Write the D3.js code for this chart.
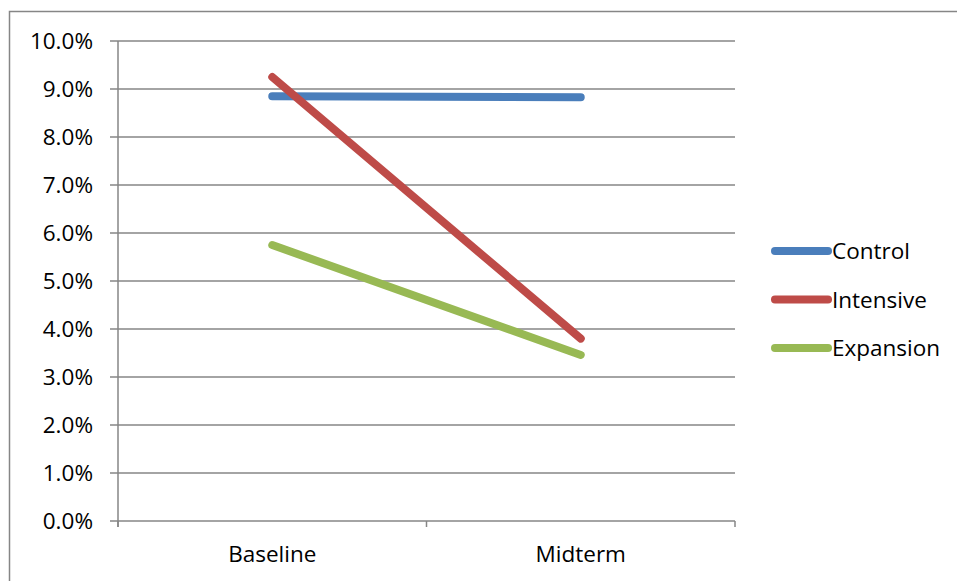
<!DOCTYPE html>
<html><head><meta charset="utf-8">
<script src="https://cdn.jsdelivr.net/npm/d3@7"></script>
<style>body{margin:0;background:#fff}svg{display:block}text{font-family:"Open Sans",Lato,sans-serif;fill:#000}</style>
</head><body>
<script>
const categories = ["Baseline", "Midterm"];
const seriesNames = ["Control", "Intensive", "Expansion"];
const control = [0.0885, 0.0883];
const intensive = [0.0925, 0.0380];
const expansion = [0.0575, 0.0346];
const yTicks = [0, 0.01, 0.02, 0.03, 0.04, 0.05, 0.06, 0.07, 0.08, 0.09, 0.10];
const colors = ["#4A7EBB", "#BE4B48", "#98B954"];

(function () {
const W = 957, H = 581;
const svg = d3.select("body").append("svg").attr("width", W).attr("height", H);
svg.append("rect").attr("x", 9.5).attr("y", 11.5).attr("width", W + 20).attr("height", H + 20)
  .attr("fill", "#fff").attr("stroke", "#868686").attr("stroke-width", 1.5);

const mL = 118, mR = 735, mT = 41, mB = 521;
const x = d3.scaleBand().domain(categories).range([mL, mR]);
const y = d3.scaleLinear().domain([0, 0.10]).range([mB, mT]);

svg.append("g").selectAll("line").data(yTicks).join("line")
  .attr("x1", mL - 8).attr("x2", mR)
  .attr("y1", d => y(d)).attr("y2", d => y(d))
  .attr("stroke", "#868686").attr("stroke-width", 1.5);

svg.append("line").attr("x1", mL).attr("x2", mL).attr("y1", mT).attr("y2", mB + 6)
  .attr("stroke", "#868686").attr("stroke-width", 1.5);
const bounds = [mL, ...categories.slice(1).map(c => x(c)), mR];
svg.append("g").selectAll("line").data(bounds).join("line")
  .attr("x1", d => d).attr("x2", d => d).attr("y1", mB).attr("y2", mB + 6)
  .attr("stroke", "#868686").attr("stroke-width", 1.5);

svg.append("g").selectAll("text").data(yTicks).join("text")
  .attr("x", 93).attr("y", d => y(d)).attr("dy", "0.36em")
  .attr("text-anchor", "end").attr("font-size", 22.5)
  .text(d => d3.format(".1%")(d));

svg.append("g").selectAll("text").data(categories).join("text")
  .attr("x", d => x(d) + x.bandwidth() / 2).attr("y", 562)
  .attr("text-anchor", "middle").attr("font-size", 22.5).text(d => d);

const data = [control, intensive, expansion];
const line = d3.line().x((d, i) => x(categories[i]) + x.bandwidth() / 2).y(d => y(d));
svg.append("g").selectAll("path").data(data).join("path")
  .attr("d", line).attr("fill", "none")
  .attr("stroke", (d, i) => colors[i]).attr("stroke-width", 8)
  .attr("stroke-linecap", "round");

const lg = svg.append("g").selectAll("g").data(seriesNames).join("g")
  .attr("transform", (d, i) => `translate(0,${251 + i * 48.5})`);
lg.append("line").attr("x1", 775).attr("x2", 828).attr("y1", 0).attr("y2", 0)
  .attr("stroke", (d, i) => colors[i]).attr("stroke-width", 8).attr("stroke-linecap", "round");
lg.append("text").attr("x", 832).attr("y", 0).attr("dy", "0.36em").attr("font-size", 22.5).text(d => d);
})();
</script>
</body></html>
